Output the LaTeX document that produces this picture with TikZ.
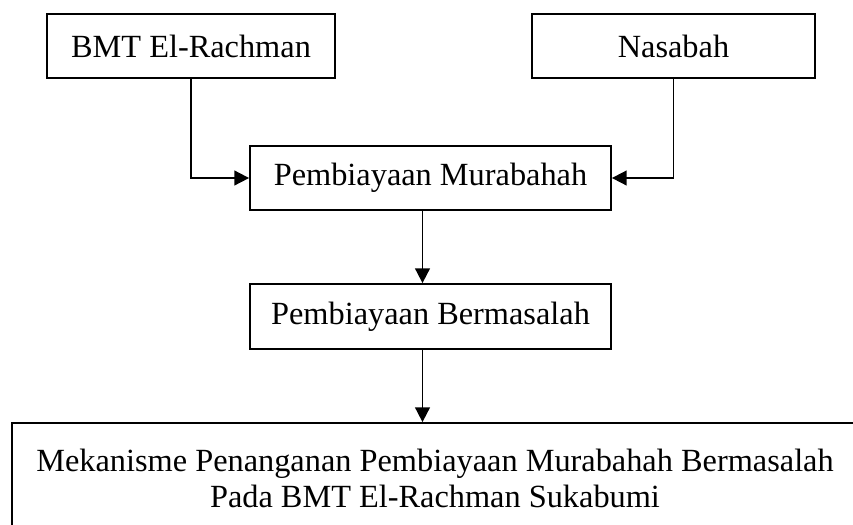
\documentclass[tikz,border=0pt]{standalone}
\usepackage{fontspec}
\setmainfont{Liberation Serif}
\usepackage{tikz}
\usetikzlibrary{arrows.meta,positioning,calc}

\begin{document}
\begin{tikzpicture}[
  x=0.03cm, y=-0.03cm,
  every node/.style={font=\fontsize{27.6}{30.7}\selectfont},
  box/.style={draw,line width=1.5pt,minimum height=1.92cm,inner sep=0pt,align=center},
  arr/.style={-{Triangle[length=12.5pt,width=12.5pt]},line width=1.5pt}
]
  \useasboundingbox (0,0) rectangle (853,524);
  \node[box,minimum width=8.64cm] (bmt) at (191,46) {BMT El-Rachman};
  \node[box,minimum width=8.49cm] (nasabah) at (673.5,46) {Nasabah};
  \node[box,minimum width=10.83cm] (murabahah) at (430.5,178) {Pembiayaan Murabahah};
  \node[box,minimum width=10.83cm,minimum height=1.95cm] (masalah) at (430.5,316.5) {Pembiayaan Bermasalah};
  \node[box,minimum width=25.38cm,minimum height=3.3cm] (mekanisme) at (435,478)
    {Mekanisme Penanganan Pembiayaan Murabahah Bermasalah\\Pada BMT El-Rachman Sukabumi};

  \draw[arr] (bmt.south) |- (murabahah.west);
  \draw[arr] (nasabah.south) |- (murabahah.east);
  \draw[arr] ($(murabahah.south)+(-8,0)$) -- ($(masalah.north)+(-8,0)$);
  \draw[arr] ($(masalah.south)+(-8,0)$) -- ($(masalah.south |- mekanisme.north)+(-8,0)$);
\end{tikzpicture}
\end{document}
